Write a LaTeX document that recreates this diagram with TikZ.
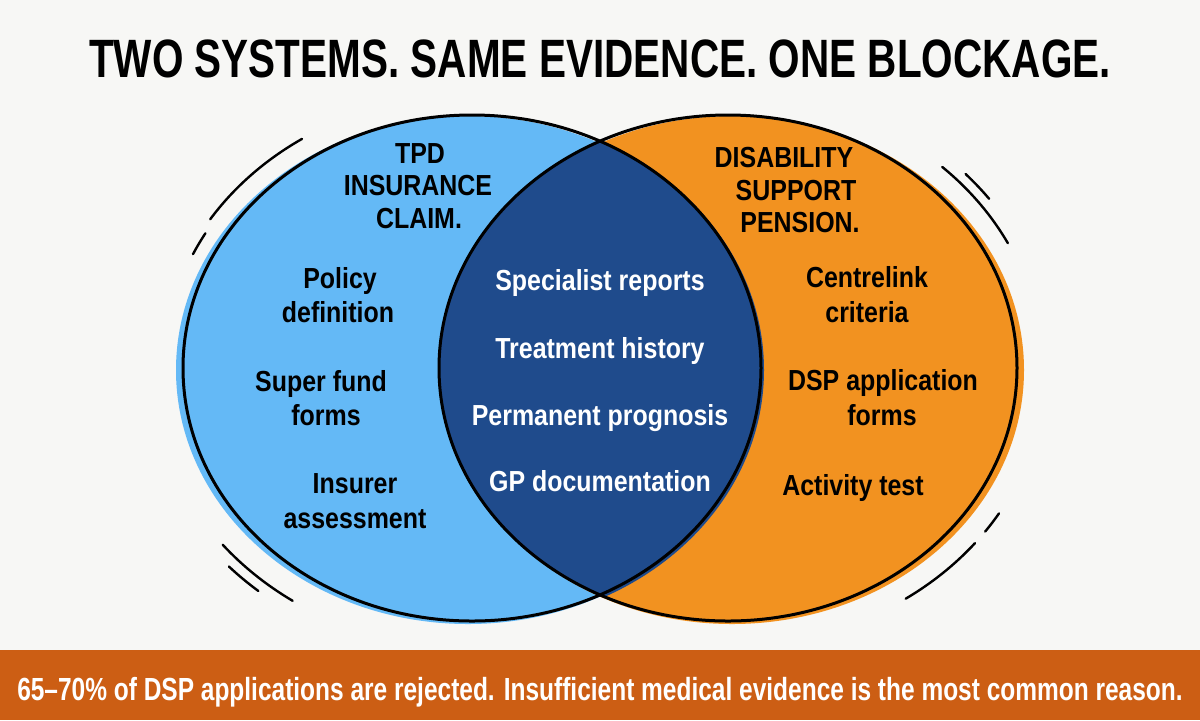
\documentclass[tikz,border=0pt]{standalone}
\usepackage{fontspec}
\newfontfamily\titlefont[FakeStretch=0.75]{Liberation Sans}
\newfontfamily\bodyfont[FakeStretch=0.86]{Liberation Sans}
\newfontfamily\bandfont[FakeStretch=0.765]{Liberation Sans}
\definecolor{bgc}{HTML}{F7F7F5}
\definecolor{lblue}{HTML}{64B9F6}
\definecolor{orng}{HTML}{F29220}
\definecolor{lens}{HTML}{1F4B8C}
\definecolor{bandc}{HTML}{CC5E14}
\begin{document}
\begin{tikzpicture}[x=0.5pt,y=-0.5pt,
  titletxt/.style={font=\titlefont\bfseries\fontsize{27}{30}\selectfont, anchor=base, inner sep=0pt},
  headtxt/.style={font=\bodyfont\bfseries\fontsize{14.5}{16}\selectfont, anchor=base, inner sep=0pt},
  itemtxt/.style={font=\bodyfont\bfseries\fontsize{14.5}{16}\selectfont, anchor=base, inner sep=0pt},
  lenstxt/.style={itemtxt, text=white},
  bandtxt/.style={font=\bandfont\bfseries\fontsize{16}{18}\selectfont, anchor=base, inner sep=0pt, text=white},
  outline/.style={draw=black, line width=1.5pt},
  swoosh/.style={draw=black, line width=1.2pt, line cap=round}]
\useasboundingbox (0,0) rectangle (1200,720);
\fill[bgc] (0,0) rectangle (1200,720);
% fills
\fill[lblue] (468,370) ellipse [x radius=292, y radius=254];
\fill[orng] (732,370) ellipse [x radius=292, y radius=254];
\begin{scope}
  \clip (474,370) ellipse [x radius=290, y radius=254];
  \fill[lens] (728,368) ellipse [x radius=289, y radius=253];
\end{scope}
% outlines
\draw[outline] (472,368) ellipse [x radius=289, y radius=253];
\draw[outline] (728,368) ellipse [x radius=289, y radius=253];
% swooshes
\draw[swoosh] (302.0,138.9) arc [start angle=237, end angle=213, x radius=312.1, y radius=273.2];
\draw[swoosh] (205.4,233.3) arc [start angle=210, end angle=205, x radius=307.8, y radius=269.4];
\draw[swoosh] (222.7,544.7) arc [start angle=141, end angle=124, x radius=320.8, y radius=280.8];
\draw[swoosh] (228.9,566.5) arc [start angle=137, end angle=130, x radius=332.4, y radius=291.0];
\draw[swoosh] (942.2,166.9) arc [start angle=-47, end angle=-27, x radius=314.1, y radius=275.0];
\draw[swoosh] (965.6,174.0) arc [start angle=-43, end angle=-36.5, x radius=324.8, y radius=284.4];
\draw[swoosh] (999.0,513.4) arc [start angle=31.5, end angle=36, x radius=317.9, y radius=278.3];
\draw[swoosh] (975.0,543.1) arc [start angle=39, end angle=56, x radius=317.9, y radius=278.3];
% title
\node[titletxt] (title) at (600,77) {TWO SYSTEMS. SAME EVIDENCE. ONE BLOCKAGE.};
% left heading
\node[headtxt] (tpd1) at (420,163) {TPD};
\node[headtxt] (tpd2) at (418,195) {INSURANCE};
\node[headtxt] (tpd3) at (419,228) {CLAIM.};
% right heading
\node[headtxt] (dsp1) at (784,167) {DISABILITY};
\node[headtxt] (dsp2) at (796,200) {SUPPORT};
\node[headtxt] (dsp3) at (800,232) {PENSION.};
% left items
\node[itemtxt] (l1a) at (340,288) {Policy};
\node[itemtxt] (l1b) at (338,322) {definition};
\node[itemtxt] (l2a) at (321,391) {Super fund};
\node[itemtxt] (l2b) at (326,425) {forms};
\node[itemtxt] (l3a) at (355,493) {Insurer};
\node[itemtxt] (l3b) at (355,528) {assessment};
% centre items
\node[lenstxt] (c1) at (600,290) {Specialist reports};
\node[lenstxt] (c2) at (600,358) {Treatment history};
\node[lenstxt] (c3) at (600,425) {Permanent prognosis};
\node[lenstxt] (c4) at (600,491) {GP documentation};
% right items
\node[itemtxt] (r1a) at (867,287) {Centrelink};
\node[itemtxt] (r1b) at (867,322) {criteria};
\node[itemtxt] (r2a) at (883,390) {DSP application};
\node[itemtxt] (r2b) at (882,425) {forms};
\node[itemtxt] (r3) at (853,495) {Activity test};
% band
\fill[bandc] (0,650) rectangle (1200,720);
\node[bandtxt] (band) at (600,700) {65\textendash70\% of DSP applications are rejected. Insufficient medical evidence is the most common reason.};
\end{tikzpicture}
\end{document}
